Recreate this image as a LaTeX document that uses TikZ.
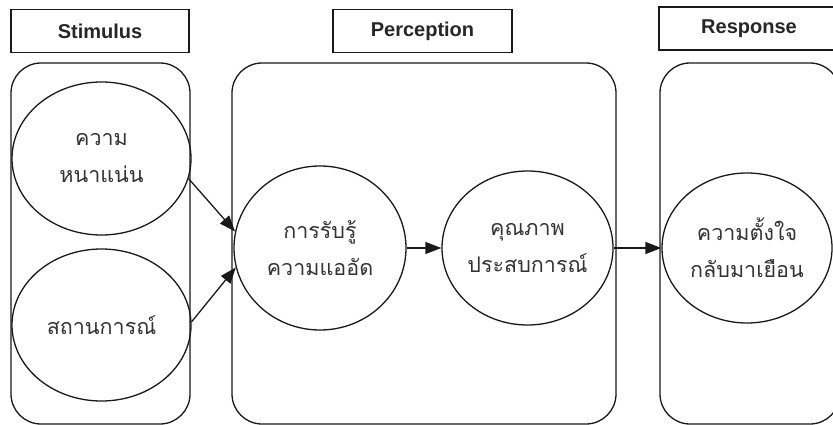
\documentclass[tikz,border=0pt]{standalone}
\usepackage{fontspec}
\setmainfont{Liberation Sans}
\newfontfamily\thaifont[Script=Thai]{Loma}
\usetikzlibrary{shapes.geometric,arrows.meta}
\begin{document}
\begin{tikzpicture}[x=1pt,y=-1pt,
  lw/.style={line width=1.3pt,draw=black!90},
  titlebox/.style={lw,rectangle,inner sep=0pt,text=black!85,font=\fontsize{20}{24}\selectfont\bfseries},
  panel/.style={lw,rounded corners=30pt},
  ell/.style={lw,ellipse,inner sep=0pt,align=center,text=black!80,font=\thaifont\fontsize{21.5}{37}\selectfont},
  arr/.style={lw,-{Triangle[length=16pt,width=12pt]}}]
\useasboundingbox (0,0) rectangle (833,425);
\clip (0,0) rectangle (833,425);
% title boxes
\node[titlebox,minimum width=178pt,minimum height=43pt] (t1) at (100,31) {Stimulus};
\node[titlebox,minimum width=179pt,minimum height=43pt] (t2) at (422.5,31) {Perception};
\node[titlebox,minimum width=180pt,minimum height=43pt] (t3) at (749,28.5) {Response};
% panels
\draw[panel] (11,63) rectangle (190,424);
\draw[panel] (232,63) rectangle (616,424);
\draw[panel] (660,63) rectangle (840,424);
% ellipses
\node[ell,minimum width=179pt,minimum height=153pt] (e1) at (101.5,158.5) {ความ\\หนาแน่น};
\node[ell,minimum width=179pt,minimum height=152pt] (e2) at (101.5,325) {สถานการณ์};
\node[ell,minimum width=172pt,minimum height=164pt] (e3) at (320,248) {การรับรู้\\ความแออัด};
\node[ell,minimum width=171pt,minimum height=154pt] (e4) at (527.5,248) {คุณภาพ\\ประสบการณ์};
\node[ell,minimum width=170pt,minimum height=150pt] (e5) at (747,248) {ความตั้งใจ\\กลับมาเยือน};
% arrows
\draw[arr] (e1.-13) -- (e3.169);
\draw[arr] (e2.2) -- (e3.193);
\draw[arr] (e3.east) -- (e4.west);
\draw[arr] (e4.east) -- (e5.west);
\end{tikzpicture}
\end{document}
